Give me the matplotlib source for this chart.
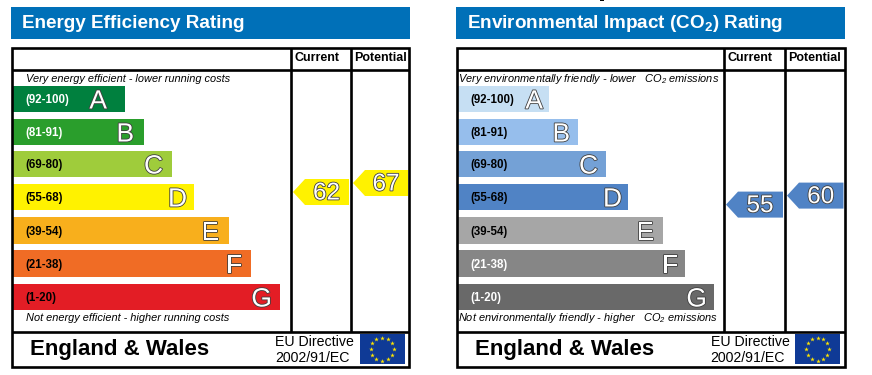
import matplotlib
matplotlib.use("Agg")
import matplotlib.pyplot as plt
import matplotlib.patheffects as pe
from matplotlib.patches import Polygon, Rectangle
import numpy as np

plt.rcParams["font.family"] = ["Liberation Sans", "DejaVu Sans"]
plt.rcParams["mathtext.default"] = "regular"

# ratings, same for both panels
letters = ["A", "B", "C", "D", "E", "F", "G"]
bands = ["(92-100)", "(81-91)", "(69-80)", "(55-68)", "(39-54)", "(21-38)", "(1-20)"]

# bar lengths in px
energy_lengths = [112, 131, 159, 181, 216, 238, 267]
env_lengths = [91, 120, 148, 170, 205, 227, 256]

energy_colors = ["#00803E", "#2A9E2C", "#9FCC3B", "#FFF200", "#F8AF1C", "#F06C25", "#E31D25"]
env_colors = ["#C6DFF3", "#96BEEC", "#74A1D6", "#5083C5", "#A6A6A6", "#868686", "#696969"]

energy_band_colors = ["white", "white", "black", "black", "black", "black", "black"]
env_band_colors = ["black", "black", "black", "black", "black", "white", "white"]

energy_current, energy_potential = 62, 67
env_current, env_potential = 55, 60

fig = plt.figure(figsize=(8.72, 3.75), dpi=100)
ax = fig.add_axes([0, 0, 1, 1])
ax.set_xlim(0, 872)
ax.set_ylim(375, 0)
ax.axis("off")

BLUE = "#0070B8"
bar_tops = [86, 119, 151, 184, 217, 250, 284]
bar_bottoms = [112, 145, 177, 210, 244, 277, 310]
# gap between the letter and the bar end
energy_gaps = [18, 10, 9, 7, 10, 9, 8]
env_gaps = [6, 8, 8, 6, 9, 7, 7]


def score_y(score):
    return 303.6 - 1.8 * score


def outlined(x, y, s, size, ha="right"):
    ax.text(x, y, s, fontsize=size, color="white", ha=ha, va="center_baseline",
            path_effects=[pe.withStroke(linewidth=1.2, foreground="#404040")], zorder=5)


def arrow(left, right, score, color):
    yc = score_y(score)
    h = 13
    pts = [(left, yc), (left + 12, yc - h), (right, yc - h), (right, yc + h), (left + 12, yc + h)]
    ax.add_patch(Polygon(pts, closed=True, fc=color, ec="none", zorder=3))
    outlined((left + 12 + right) / 2 - 0.5, yc - 1, str(score), 17.5, ha="center")


def eu_flag(x0):
    ax.add_patch(Rectangle((x0, 334), 45, 30, fc="#0F3A96", ec="none", zorder=3))
    ang = np.deg2rad(np.arange(0, 360, 30))
    ax.scatter(x0 + 22.5 + 11.5 * np.cos(ang), 349 + 11.5 * np.sin(ang), marker="*", s=12,
               color="#FFE600", linewidths=0, zorder=4)


def panel(x_head, x_left, x_cur, x_pot, x_right, title, lengths, colors, band_colors, gaps,
          top_text, bottom_text, text_x, current, potential, arrow_color, head_w):
    ax.add_patch(Rectangle((x_head, 7), head_w, 32, fc=BLUE, ec="none"))
    ax.text(x_head + 11, 23, title, color="white", fontsize=13.6, fontweight="bold",
            ha="left", va="center")

    # grid lines of the table
    lw = 1.9
    ax.add_patch(Rectangle((x_left, 47.5), x_right - x_left, 319, fc="none", ec="black", lw=lw, zorder=6))
    ax.plot([x_left, x_right], [70, 70], color="black", lw=lw, zorder=6, solid_capstyle="butt")
    ax.plot([x_left, x_right], [332, 332], color="black", lw=lw, zorder=6, solid_capstyle="butt")
    ax.plot([x_cur, x_cur], [47.5, 332], color="black", lw=lw, zorder=6, solid_capstyle="butt")
    ax.plot([x_pot, x_pot], [47.5, 332], color="black", lw=lw, zorder=6, solid_capstyle="butt")

    ax.text(x_cur + 3.5, 58, "Current", fontsize=9, fontweight="bold", ha="left", va="center")
    ax.text(x_pot + 3.5, 58, "Potential", fontsize=9, fontweight="bold", ha="left", va="center")

    bar_left = x_left + 1
    ax.barh(bar_tops, lengths, height=np.array(bar_bottoms) - np.array(bar_tops), left=bar_left,
            color=colors, align="edge", linewidth=0, zorder=2)
    for i, letter in enumerate(letters):
        yc = (bar_tops[i] + bar_bottoms[i]) / 2
        ax.text(bar_left + 12.5, yc + 1.2, bands[i], fontsize=8.3, fontweight="bold", color=band_colors[i],
                ha="left", va="center", zorder=4)
        outlined(bar_left + lengths[i] - gaps[i], yc, letter, 19)

    ax.text(text_x, 78.5, top_text, fontsize=7.9, style="italic", ha="left", va="center")
    ax.text(text_x, 318, bottom_text, fontsize=7.9, style="italic", ha="left", va="center")

    ax.text(x_left + 18, 349, "England & Wales", fontsize=16.05, fontweight="bold", ha="left", va="center")
    ax.text(x_right - 134, 341.5, "EU Directive", fontsize=10.2, ha="left", va="center")
    ax.text(x_right - 134, 357.5, "2002/91/EC", fontsize=10.2, ha="left", va="center")
    eu_flag(x_right - 49.5)

    arrow(x_cur + 2, x_pot - 2, current, arrow_color)
    arrow(x_pot + 2, x_right - 1, potential, arrow_color)


panel(11, 12, 291, 351, 409, "Energy Efficiency Rating", energy_lengths, energy_colors, energy_band_colors,
      energy_gaps, "Very energy efficient - lower running costs", "Not energy efficient - higher running costs",
      26, energy_current, energy_potential, "#FFF200", 399)
panel(456, 457, 724, 785, 844.5, "Environmental Impact (CO$_2$) Rating", env_lengths, env_colors, env_band_colors,
      env_gaps, "Very environmentally friendly - lower   CO$_2$ emissions",
      "Not environmentally friendly - higher   CO$_2$ emissions",
      458, env_current, env_potential, "#5083C5", 389)

# bit of cropped text at the very top edge
ax.add_patch(Rectangle((600, 0), 4, 1.2, fc="black", ec="none"))

fig.savefig("out.png", dpi=100)
